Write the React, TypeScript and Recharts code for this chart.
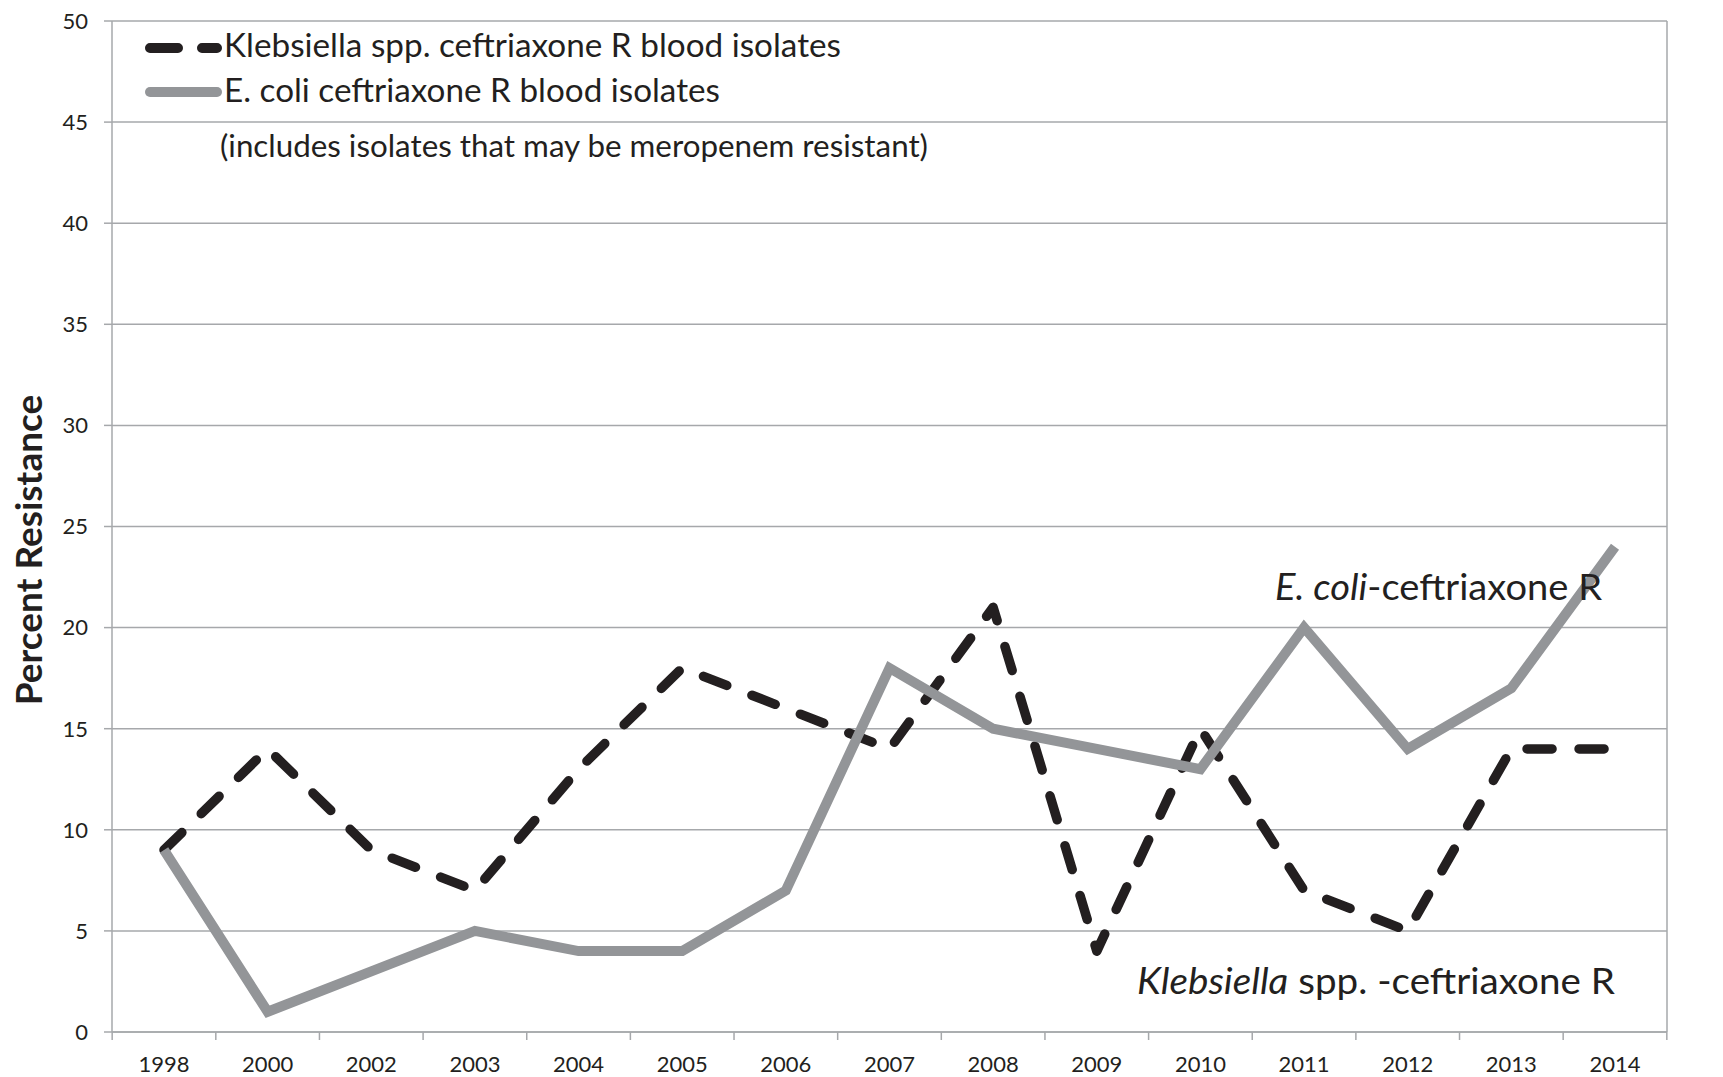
import React from 'react';
import { LineChart, Line, XAxis, YAxis, CartesianGrid } from 'recharts';

// Percent ceftriaxone resistance in blood isolates
const years = ['1998', '2000', '2002', '2003', '2004', '2005', '2006', '2007', '2008', '2009', '2010', '2011', '2012', '2013', '2014'];
const klebsiella = [9, 14, 9, 7, 13, 18, 16, 14, 21, 4, 15, 7, 5, 14, 14];
const ecoli = [9, 1, 3, 5, 4, 4, 7, 18, 15, 14, 13, 20, 14, 17, 24];
const yTicks = [0, 5, 10, 15, 20, 25, 30, 35, 40, 45, 50];

const data = years.map((year, i) => ({ year, klebsiella: klebsiella[i], ecoli: ecoli[i] }));

const FONT = 'Lato, "Open Sans", sans-serif';
const TEXT = '#231f20';
const GRID = '#a6a8ab';
const BLACK = '#231f20';
const GRAY = '#939598';
const DASH = '25 27';

const W = 1715;
const H = 1069;

// category labels sit in the middle of each slot, tick marks between slots (Excel style)
const XTick = (props: any) => {
  const { x, y, payload, index, width, visibleTicksCount } = props;
  const slot = width && visibleTicksCount ? width / visibleTicksCount : 103.7;
  const half = slot / 2;
  return (
    <g>
      <line x1={x - half} x2={x - half} y1={y} y2={y + 8} stroke={GRID} strokeWidth={1.5} />
      {index === visibleTicksCount - 1 && (
        <line x1={x + half} x2={x + half} y1={y} y2={y + 8} stroke={GRID} strokeWidth={1.5} />
      )}
      <text x={x} y={y + 40} textAnchor="middle" fontSize={22} fill={TEXT} fontFamily={FONT}>
        {payload.value}
      </text>
    </g>
  );
};

const yTickStyle = { fontSize: 22, fill: TEXT, fontFamily: FONT };

const App = () => {
  return (
    <div style={{ position: 'relative', width: W, height: H }}>
      <LineChart width={W} height={H} data={data} margin={{ top: 13, right: 0, left: 44, bottom: 5 }}>
        <CartesianGrid yAxisId="l" vertical={false} stroke={GRID} strokeWidth={1.5} />
        <XAxis
          dataKey="year"
          interval={0}
          height={40}
          padding={{ left: 52, right: 52 }}
          axisLine={{ stroke: GRID, strokeWidth: 1.5 }}
          tickLine={false}
          tickSize={0}
          tickMargin={0}
          tick={<XTick />}
        />
        <YAxis
          yAxisId="l"
          width={60}
          domain={[0, 50]}
          ticks={yTicks}
          interval={0}
          axisLine={{ stroke: GRID, strokeWidth: 1.5 }}
          tickLine={{ stroke: GRID, strokeWidth: 1.5 }}
          tickSize={8}
          tickMargin={16}
          tick={yTickStyle}
        />
        <YAxis
          yAxisId="r"
          orientation="right"
          width={56}
          domain={[0, 50]}
          ticks={yTicks}
          interval={0}
          axisLine={{ stroke: GRID, strokeWidth: 1.5 }}
          tickLine={{ stroke: GRID, strokeWidth: 1.5 }}
          tickSize={8}
          tickMargin={16}
          tick={yTickStyle}
        />
        <Line
          yAxisId="l"
          type="linear"
          dataKey="klebsiella"
          stroke={BLACK}
          strokeWidth={9.5}
          strokeDasharray={DASH}
          strokeLinecap="round"
          strokeLinejoin="round"
          dot={false}
          activeDot={false}
          isAnimationActive={false}
        />
        <Line
          yAxisId="l"
          type="linear"
          dataKey="ecoli"
          stroke={GRAY}
          strokeWidth={10}
          strokeLinejoin="miter"
          dot={false}
          activeDot={false}
          isAnimationActive={false}
        />
      </LineChart>

      {/* legend, notes and axis title drawn on top in page coordinates */}
      <svg
        width={1723}
        height={1077}
        style={{ position: 'absolute', left: -8, top: -8, pointerEvents: 'none' }}
        fontFamily={FONT}
        fill={TEXT}
      >
        <line x1={150} x2={217} y1={48} y2={48} stroke={BLACK} strokeWidth={10} strokeDasharray="28 24" strokeLinecap="round" />
        <text x={224} y={57} fontSize={32} textLength={617} lengthAdjust="spacingAndGlyphs">
          Klebsiella spp. ceftriaxone R blood isolates
        </text>
        <line x1={150} x2={217} y1={92} y2={92} stroke={GRAY} strokeWidth={10} strokeLinecap="round" />
        <text x={224} y={102} fontSize={32} textLength={496} lengthAdjust="spacingAndGlyphs">
          E. coli ceftriaxone R blood isolates
        </text>
        <text x={220} y={157} fontSize={31.5} textLength={708} lengthAdjust="spacingAndGlyphs">
          (includes isolates that may be meropenem resistant)
        </text>

        <text x={1275} y={600} fontSize={37} textLength={327} lengthAdjust="spacingAndGlyphs">
          <tspan fontStyle="italic">E. coli</tspan>-ceftriaxone R
        </text>
        <text x={1137} y={994} fontSize={37} textLength={478} lengthAdjust="spacingAndGlyphs">
          <tspan fontStyle="italic">Klebsiella</tspan> spp. -ceftriaxone R
        </text>

        <text x={42} y={550} fontSize={37} fontWeight="bold" textAnchor="middle" transform="rotate(-90, 42, 550)">
          Percent Resistance
        </text>
      </svg>
    </div>
  );
};

export default App;
